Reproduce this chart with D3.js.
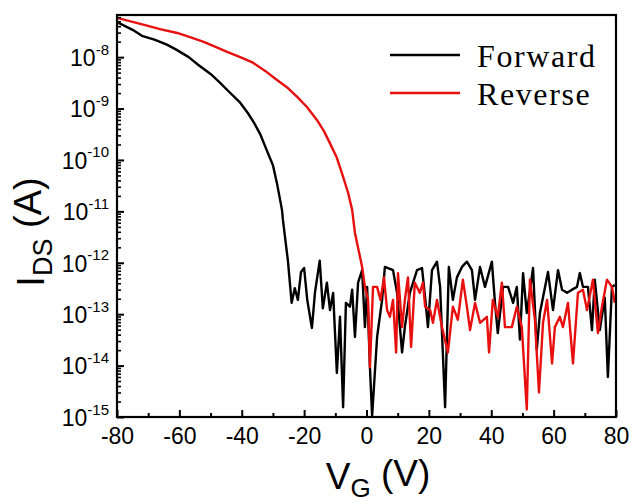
<!DOCTYPE html>
<html>
<head>
<meta charset="utf-8">
<script src="https://cdn.jsdelivr.net/npm/d3@7"></script>
<style>
  body { margin: 0; background: #fff; }
  svg { display: block; }
</style>
</head>
<body>
<svg id="chart" width="632" height="504"></svg>
<script>
// Forward sweep (black)
var forwardV = [-80, -75, -72, -68, -64, -61, -57, -54, -50, -47, -44, -40.5, -38, -36, -34, -32, -30, -28.7, -27.1, -26.8,
  -25.2, -24, -23, -22, -21, -20, -19, -17.5, -16.5, -15, -14, -12.7, -11.7, -10.7, -9.5, -8.5, -7.5, -6.6, -5.3, -4.6,
  -3.7, -2.7, -1.4, -0.5, 0.2, 1.1, 1.8, 3.4, 5.0, 5.9, 8.5, 9.8, 11.4, 12.3, 13.9, 16.2, 17.8, 18.8, 19.7, 21.0,
  22.6, 23.6, 25.2, 26.4, 27.7, 29.0, 30.6, 32.2, 33.8, 34.8, 36.4, 38.0, 40.2, 41.2, 42.1, 43.8, 45.4, 47.0, 48.2, 49.2,
  50.2, 51.4, 53.4, 54.6, 55.6, 58.2, 59.8, 61.4, 62.7, 64.3, 65.9, 67.5, 68.4, 69.4, 71.0, 72.3, 73.2, 74.8, 76.4, 77.4,
  78.7, 79.6];
var forwardI = [4.8e-8, 3.4e-8, 2.6e-8, 2.2e-8, 1.75e-8, 1.4e-8, 1.0e-8, 7.1e-9, 4.7e-9, 3.2e-9, 2.1e-9, 1.3e-9, 8.1e-10, 5.2e-10, 3.1e-10, 1.55e-10, 7.9e-11, 3.5e-11, 1.07e-11, 6.8e-12,
  1.1e-12, 1.66e-13, 3.2e-13, 1.9e-13, 6.6e-13, 7.9e-13, 1.9e-13, 5.4e-14, 2.7e-13, 1.1e-12, 1.3e-13, 4.1e-13, 1.2e-13, 2.6e-13, 7.2e-15, 8.9e-14, 1.55e-15, 1.66e-13, 1.4e-13, 3.0e-13,
  3.6e-14, 4.1e-13, 7.2e-13, 5.6e-14, 3.4e-13, 9.3e-15, 1.05e-15, 3.6e-14, 1.9e-13, 8.3e-13, 7.2e-13, 2.6e-13, 1.8e-14, 5.6e-14, 2.6e-13, 7.2e-13, 7.9e-13, 2.1e-13, 5.6e-14, 7.2e-13,
  1.05e-12, 3.4e-13, 1.55e-15, 8.3e-13, 1.9e-13, 5.2e-13, 8.3e-13, 1.05e-12, 7.2e-13, 1.9e-13, 8.3e-13, 3.4e-13, 1.05e-12, 1.66e-13, 4.3e-14, 3.4e-13, 3.4e-13, 1.66e-13, 3.4e-13, 3.2e-14,
  6.3e-13, 1.05e-13, 7.9e-13, 2.0e-14, 1.05e-13, 6.6e-13, 1.2e-13, 7.2e-13, 3.0e-13, 2.6e-13, 3.0e-13, 3.4e-13, 6.3e-13, 3.4e-13, 3.4e-13, 4.9e-14, 4.7e-13, 4.9e-14, 2.1e-13, 6.0e-15,
  3.4e-13, 3.7e-13];

// Reverse sweep (red)
var reverseV = [-80, -71.6, -66.2, -60.7, -56.6, -52.4, -48.6, -44.7, -40.5, -36.4, -32.5, -28.7, -25.2, -22.3, -19.1, -15.9, -13.6, -11.7, -9.5, -7.5,
  -5.9, -4.6, -3.7, -1.4, -0.5, 0.5, 1.1, 2.1, 3.4, 4.5,
  5.6, 6.6, 7.5, 8.5, 9.5, 10.1, 11.4, 12.3, 13.3, 14.3, 15.5, 17.1, 18.1, 18.8, 20.4, 21.3, 22.6, 24.2, 26.1, 27.7,
  29.3, 30.9, 32.2, 33.2, 34.8, 36.4, 38.6, 39.3, 40.5, 42.1, 43.4, 44.4, 46.6, 48.2, 49.8, 51.4, 52.4, 54.0, 55.3, 56.6,
  57.9, 59.5, 60.4, 62.0, 63.0, 64.6, 66.2, 67.8, 69.4, 70.7, 72.6, 74.2, 75.5, 77.1, 78.7, 79.6];
var reverseI = [5.8e-8, 4.3e-8, 3.5e-8, 2.95e-8, 2.45e-8, 2.0e-8, 1.6e-8, 1.26e-8, 1.0e-8, 7.8e-9, 5.4e-9, 3.6e-9, 2.5e-9, 1.7e-9, 1.07e-9, 6.0e-10, 3.6e-10, 2.1e-10, 1.1e-10, 4.7e-11,
  2.3e-11, 1.07e-11, 3.8e-12, 8.3e-13, 3.4e-13, 1.9e-13, 9.3e-15, 3.4e-13, 3.4e-13, 1.9e-13,
  5.2e-13, 1.2e-13, 8.9e-14, 1.9e-13, 1.8e-14, 6.3e-13, 5.6e-14, 1.9e-13, 5.2e-13, 2.3e-14, 4.1e-13, 2.6e-13, 4.1e-13, 1.4e-13, 1.2e-13, 6.8e-14, 1.9e-13, 5.6e-14, 1.8e-14, 1.4e-13,
  7.8e-14, 4.7e-13, 1.4e-13, 4.9e-14, 1.66e-13, 6.8e-14, 8.9e-14, 1.8e-14, 1.9e-13, 8.9e-14, 4.1e-13, 5.6e-14, 5.6e-14, 1.4e-13, 5.6e-14, 1.4e-15, 4.7e-13, 7.8e-14, 3.0e-15, 6.8e-14,
  1.9e-13, 1.1e-14, 5.6e-14, 8.9e-14, 5.6e-14, 1.66e-13, 1.1e-14, 2.6e-13, 3.0e-13, 1.2e-13, 4.7e-13, 4.3e-14, 1.4e-13, 4.7e-13, 3.4e-13, 1.66e-13];

var xTicks = [-80, -60, -40, -20, 0, 20, 40, 60, 80];
var xMinor = [-70, -50, -30, -10, 10, 30, 50, 70];
var yExps = [-15, -14, -13, -12, -11, -10, -9, -8];
var seriesNames = ["Forward", "Reverse"];
var seriesColors = ["#000000", "#e8100f"];

var svg = d3.select("#chart"),
    margin = {top: 15, right: 16, bottom: 87, left: 117},
    width = 632 - margin.left - margin.right,
    height = 504 - margin.top - margin.bottom,
    g = svg.append("g").attr("transform", "translate(" + margin.left + "," + margin.top + ")");

var x = d3.scaleLinear().domain([-80, 80]).range([0, width]);
var y = d3.scaleLog().domain([1e-15, 6.6e-8]).range([height, 0]);

// minor y ticks 2..9 per decade
var yMinor = [];
yExps.slice(0, -1).forEach(function(e) {
  for (var k = 2; k <= 9; k++) yMinor.push(k * Math.pow(10, e));
});
[2, 3, 4, 5, 6].forEach(function(k) { yMinor.push(k * 1e-8); });

var font = "'Liberation Sans', Arial, sans-serif";

// data lines
var line = d3.line()
    .x(function(d) { return x(d[0]); })
    .y(function(d) { return y(d[1]); });

g.append("clipPath").attr("id", "clip").append("rect")
    .attr("width", width).attr("height", height);

var forward = forwardV.map(function(v, i) { return [v, forwardI[i]]; });
var reverse = reverseV.map(function(v, i) { return [v, reverseI[i]]; });

g.append("g").attr("clip-path", "url(#clip)")
  .selectAll("path")
  .data([forward, reverse])
  .enter().append("path")
    .attr("d", line)
    .attr("fill", "none")
    .attr("stroke", function(d, i) { return seriesColors[i]; })
    .attr("stroke-width", 2.4)
    .attr("stroke-linejoin", "round");

// x axis
var xAxis = g.append("g")
    .attr("transform", "translate(0," + height + ")")
    .call(d3.axisBottom(x).tickValues(xTicks).tickSize(-7).tickPadding(11).tickFormat(d3.format("d")));
xAxis.select(".domain").remove();
xAxis.selectAll("line").attr("stroke-width", 2);
xAxis.selectAll("text").attr("font-family", font).attr("font-size", 23).attr("fill", "#000")
    .text(function(d) { return d < 0 ? "-" + Math.abs(d) : d; });

var xAxisMinor = g.append("g")
    .attr("transform", "translate(0," + height + ")")
    .call(d3.axisBottom(x).tickValues(xMinor).tickSize(-4).tickFormat(""));
xAxisMinor.select(".domain").remove();
xAxisMinor.selectAll("line").attr("stroke-width", 2);

// y axis
var yAxis = g.append("g")
    .call(d3.axisLeft(y).tickValues(yExps.map(function(e) { return Math.pow(10, e); })).tickSize(-7).tickPadding(8).tickFormat(""));
yAxis.select(".domain").remove();
yAxis.selectAll("line").attr("stroke-width", 2);
yAxis.selectAll(".tick text").each(function(d, i) {
  var t = d3.select(this)
      .attr("font-family", font).attr("font-size", 23).attr("fill", "#000").attr("dy", "0.36em");
  t.append("tspan").text("10");
  t.append("tspan").attr("font-size", 15).attr("dy", "-0.75em").text(yExps[i]);
});

var yAxisMinor = g.append("g")
    .call(d3.axisLeft(y).tickValues(yMinor).tickSize(-4).tickFormat(""));
yAxisMinor.select(".domain").remove();
yAxisMinor.selectAll("line").attr("stroke-width", 1.6);

// frame
g.append("rect")
    .attr("width", width).attr("height", height)
    .attr("fill", "none").attr("stroke", "#000").attr("stroke-width", 2.2);

// axis titles
var xt = svg.append("text")
    .attr("x", 378).attr("y", 489)
    .attr("text-anchor", "middle")
    .attr("font-family", font).attr("font-size", 37);
xt.append("tspan").text("V");
xt.append("tspan").attr("font-size", 26).attr("dy", "0.3em").text("G");
xt.append("tspan").attr("dy", "-0.3em").text(" (V)");

var yt = svg.append("text")
    .attr("transform", "translate(44,232) rotate(-90)")
    .attr("text-anchor", "middle")
    .attr("font-family", font).attr("font-size", 38);
yt.append("tspan").text("I");
yt.append("tspan").attr("font-size", 27).attr("dy", "0.3em").text("DS");
yt.append("tspan").attr("dy", "-0.3em").text(" (A)");

// legend
var legend = svg.append("g")
  .selectAll("g")
  .data(seriesNames)
  .enter().append("g")
    .attr("transform", function(d, i) { return "translate(0," + (55 + i * 38) + ")"; });

legend.append("line")
    .attr("x1", 390).attr("x2", 460)
    .attr("stroke", function(d, i) { return seriesColors[i]; })
    .attr("stroke-width", 2.4);

legend.append("text")
    .attr("x", 477).attr("y", 12)
    .attr("font-family", "'Liberation Serif', 'DejaVu Serif', serif")
    .attr("font-size", 32)
    .attr("letter-spacing", 1.6)
    .text(function(d) { return d; });
</script>
</body>
</html>
